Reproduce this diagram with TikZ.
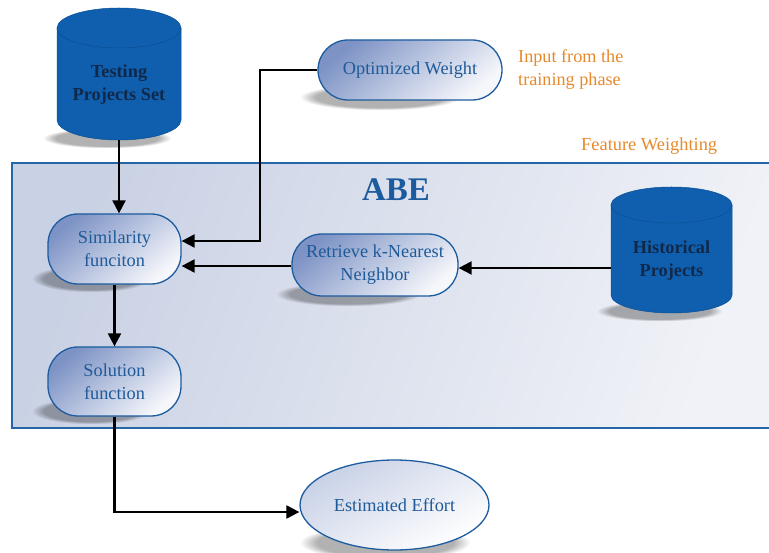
\documentclass[tikz,border=0pt]{standalone}
\usepackage{fontspec}
\setmainfont{Liberation Serif}
\usetikzlibrary{arrows.meta,calc,fadings,shapes.geometric}
\definecolor{cylfill}{HTML}{0F5FAE}
\definecolor{cylline}{HTML}{0A4E92}
\definecolor{cyltext}{HTML}{10294A}
\definecolor{pilltext}{HTML}{1F5A99}
\definecolor{pillline}{HTML}{1D5C9E}
\definecolor{pillA}{HTML}{7D93C5}
\definecolor{pillB}{HTML}{F6F7FB}
\definecolor{abetext}{HTML}{1C5C9E}
\definecolor{orangetxt}{HTML}{E5892B}
\definecolor{boxline}{HTML}{2466A6}
\definecolor{boxA}{HTML}{C9D1E4}
\definecolor{boxB}{HTML}{F0F2F7}
\definecolor{effA}{HTML}{C8D1E6}
\newcommand\mycyl[7]{% name, cx, cy, w, h, ry, text
  \fill[black,opacity=0.3,path fading=circle with fuzzy edge 20 percent]
    ({#2-#4/2-14},{#3+#5/2-12}) rectangle ({#2+#4/2-10},{#3+#5/2+8});
  \fill[cylfill]
    ({#2-#4/2},{#3-#5/2+#6}) -- ({#2-#4/2},{#3+#5/2-#6})
    arc[start angle=180,end angle=0,x radius=#4/2,y radius=#6]
    -- ({#2+#4/2},{#3-#5/2+#6})
    arc[start angle=0,end angle=-180,x radius=#4/2,y radius=#6] -- cycle;
  \draw[cylline,line width=0.5pt]
    ({#2-#4/2},{#3-#5/2+#6}) -- ({#2-#4/2},{#3+#5/2-#6})
    arc[start angle=180,end angle=0,x radius=#4/2,y radius=#6]
    -- ({#2+#4/2},{#3-#5/2+#6});
  \draw[cylline,line width=0.5pt] (#2,{#3-#5/2+#6}) ellipse[x radius=#4/2,y radius=#6];
  \node[cyltxt,minimum width=#4,minimum height=#5] (#1) at (#2,#3) {};
  \node[cyltxt] at (#2,{#3+11}) {#7};
}
\begin{document}
\begin{tikzpicture}[x=1pt,y=-1pt,
  cyltxt/.style={inner sep=0pt,align=center,font=\fontsize{18.3}{23}\selectfont\bfseries,text=cyltext},
  pill/.style={draw=pillline,line width=1.3pt,shading=axis,top color=pillA,bottom color=pillB,shading angle=40,
    align=center,text=pilltext,font=\fontsize{18.3}{23}\selectfont,inner sep=0pt},
  arr/.style={line width=2.2pt,-{Triangle[length=13pt,width=13pt]}},
  shadowst/.style={black,opacity=0.3,path fading=circle with fuzzy edge 20 percent}]
\useasboundingbox (0,0) rectangle (769,553);
% ABE box
\begin{scope}
\clip (0,0) rectangle (769,553);
\shade[left color=boxA,right color=boxB,shading angle=70] (12,163) rectangle (780,428);
\draw[boxline,line width=1.3pt] (780,163) -- (12,163) -- (12,428) -- (780,428);
\end{scope}
\node[font=\fontsize{33}{36}\selectfont\bfseries,text=abetext,inner sep=0pt] (abe) at (396,190) {ABE};
% cylinders
\mycyl{test}{119}{74}{124}{132}{20}{Testing\\Projects Set}
\mycyl{hist}{671.5}{250}{121}{126}{18}{Historical\\Projects}
% shadows for pills
\fill[shadowst] (300,84) rectangle (460,110);
\fill[shadowst] (32,265) rectangle (150,292);
\fill[shadowst] (32,398) rectangle (150,424);
\fill[shadowst] (276,282) rectangle (420,306);
\fill[shadowst] (300,525) rectangle (470,560);
% pills
\node[pill,minimum width=184,minimum height=60,rounded corners=30] (opt) at (410,70) {Optimized Weight};
\node[pill,minimum width=133,minimum height=70,rounded corners=30] (sim) at (114.5,249) {Similarity\\funciton};
\node[pill,minimum width=166,minimum height=62,rounded corners=30] (ret) at (375,265) {Retrieve k-Nearest\\Neighbor};
\node[pill,minimum width=133,minimum height=69,rounded corners=30] (sol) at (114.5,381.5) {Solution\\function};
\node[draw=pillline,line width=1.3pt,ellipse,shading=axis,top color=effA,bottom color=white,shading angle=30,
  minimum width=189,minimum height=90,inner sep=0pt,text=pilltext,font=\fontsize{18.3}{23}\selectfont] (eff) at (394.5,505) {Estimated Effort};
% labels
\node[text=orangetxt,align=left,font=\fontsize{18.2}{23}\selectfont,inner sep=0pt,anchor=west] (inp) at (518,70) {Input from the\\training phase};
\node[text=orangetxt,font=\fontsize{18.4}{22}\selectfont,inner sep=0pt,anchor=west] (fw) at (581,146) {Feature Weighting};
% connectors
\draw[arr] (test.south) -- (test.south |- sim.north);
\draw[arr] (opt.west) -- ++(-57,0) |- ($(sim.east)+(0,-8)$);
\draw[arr] ($(ret.west)+(0,1)$) -- ($(sim.east)+(0,17)$);
\draw[arr] (hist.west |- ret.east) ++(0,3) -- ($(ret.east)+(0,3)$);
\draw[arr] (sim.south) -- (sol.north);
\draw[arr] (sol.south) |- ($(eff.west)+(0,7)$);
\end{tikzpicture}
\end{document}
